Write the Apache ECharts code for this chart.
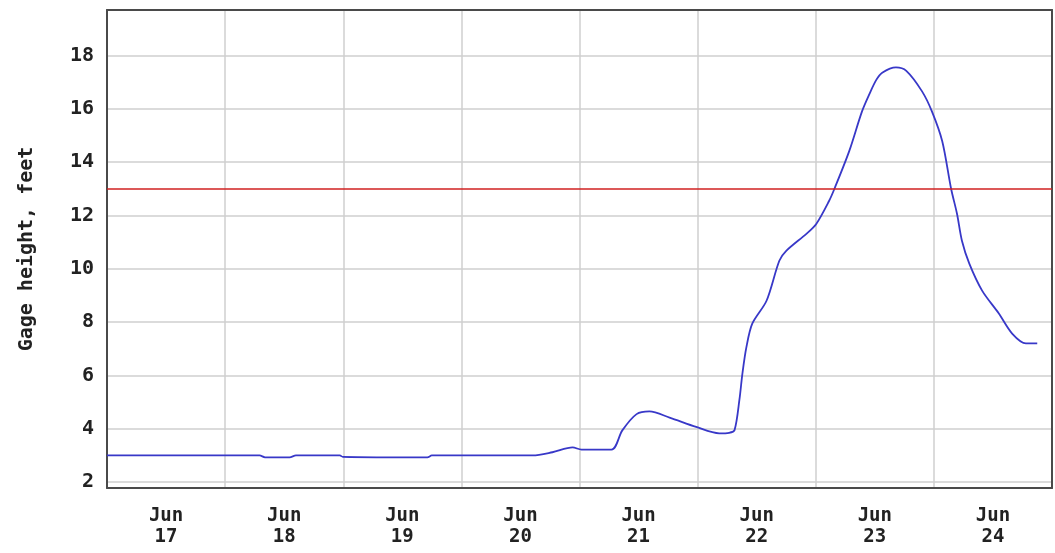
<!DOCTYPE html>
<html><head><meta charset="utf-8">
<script src="https://cdn.jsdelivr.net/npm/echarts@6/dist/echarts.min.js"></script>
<style>html,body{margin:0;padding:0;background:#fff}#c{width:1055px;height:553px}</style>
</head><body><div id="c"></div>
<script>
// hours since Jun 17 00:00
const hours = [0, 31.0, 32.1, 37.1, 38.4, 47.3, 47.9, 65.1, 66.0, 86.5, 90.5, 94.6, 96.4, 102.5, 104.7, 107.6, 110.2, 114.3, 119.7, 124.4, 126.4, 127.5, 128.5, 129.1, 129.9, 131.1, 134.0, 136.6, 138.0, 142.1, 144.1, 146.7, 147.8, 150.8, 153.4, 154.9, 156.3, 157.5, 160.3, 162.4, 165.6, 167.6, 169.7, 171.5, 172.7, 173.7, 175.2, 177.8, 181.2, 183.9, 186.7, 189.0];
const gage = [3.0, 3.0, 2.93, 2.93, 3.0, 3.0, 2.95, 2.93, 3.0, 3.0, 3.12, 3.3, 3.22, 3.22, 3.94, 4.55, 4.65, 4.42, 4.07, 3.83, 3.85, 3.95, 5.1, 6.07, 7.05, 7.94, 8.8, 10.3, 10.67, 11.31, 11.68, 12.54, 13.0, 14.41, 15.9, 16.55, 17.08, 17.35, 17.55, 17.42, 16.65, 15.9, 14.78, 13.0, 12.06, 11.05, 10.19, 9.18, 8.32, 7.57, 7.2, 7.2];
const dayLabels = ['17', '18', '19', '20', '21', '22', '23', '24'];
const monthLabel = 'Jun';
const floodStage = 13;
const yName = 'Gage height, feet';

const font = 'DejaVu Sans Mono';
const border = {show: true, onZero: false, lineStyle: {color: '#4a4a4a', width: 2}};
const chart = echarts.init(document.getElementById('c'), null, {renderer: 'canvas'});
chart.setOption({
  backgroundColor: '#fff',
  animation: false,
  grid: {left: 107, right: 2, top: 10, bottom: 65, show: false},
  xAxis: [{
    type: 'value', min: 0, max: 192, interval: 24, position: 'bottom',
    axisLine: border, axisTick: {show: false}, axisLabel: {show: false},
    splitLine: {show: true, lineStyle: {color: '#cfcfcf', width: 1.5}}
  }, {
    type: 'value', min: 0, max: 192, interval: 12, position: 'bottom',
    axisLine: {show: false}, axisTick: {show: false},
    splitLine: {show: false},
    axisLabel: {
      margin: 18, color: '#222', fontFamily: font, fontWeight: 'bold', fontSize: 19, lineHeight: 21,
      formatter: v => (v % 24 === 12) ? monthLabel + '\n' + dayLabels[Math.floor(v / 24)] : ''
    }
  }, {
    type: 'value', min: 0, max: 192, position: 'top',
    axisLine: border, axisTick: {show: false}, axisLabel: {show: false}, splitLine: {show: false}
  }],
  yAxis: [{
    type: 'value', min: 1.78, max: 19.7, splitNumber: 9, position: 'left',
    name: yName, nameLocation: 'middle', nameGap: 70,
    nameTextStyle: {color: '#222', fontFamily: font, fontWeight: 'bold', fontSize: 20},
    axisLine: border, axisTick: {show: false},
    axisLabel: {
      margin: 13, color: '#222', fontFamily: font, fontWeight: 'bold', fontSize: 20,
      formatter: v => (Math.abs(v - Math.round(v)) < 1e-6 && Math.round(v) % 2 === 0) ? String(Math.round(v)) : ''
    },
    splitLine: {show: true, lineStyle: {color: '#cfcfcf', width: 1.5}}
  }, {
    type: 'value', min: 1.78, max: 19.7, position: 'right',
    axisLine: border, axisTick: {show: false}, axisLabel: {show: false}, splitLine: {show: false}
  }],
  series: [{
    type: 'line', xAxisIndex: 0, yAxisIndex: 0,
    data: hours.map((h, i) => [h, gage[i]]),
    showSymbol: false, smooth: 0.3,
    lineStyle: {color: '#3838c8', width: 1.8},
    markLine: {
      silent: true, symbol: 'none', label: {show: false},
      lineStyle: {color: '#d02020', width: 1.6, type: 'solid'},
      data: [{yAxis: floodStage}]
    }
  }]
});
</script>
</body></html>
